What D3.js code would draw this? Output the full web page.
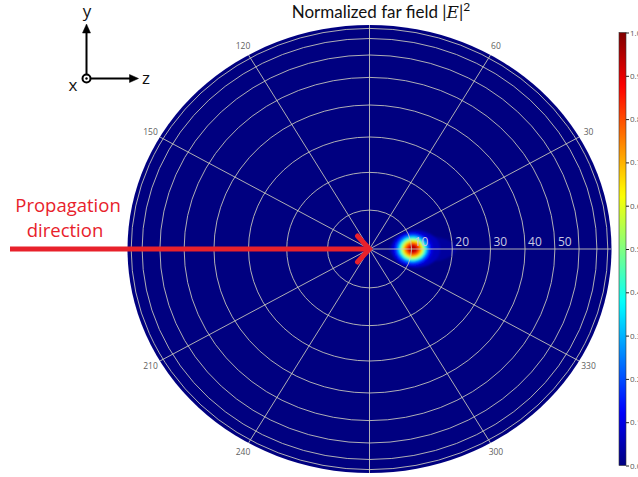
<!DOCTYPE html>
<html>
<head>
<meta charset="utf-8">
<script src="https://cdn.jsdelivr.net/npm/d3@7"></script>
<style>
  html, body { margin: 0; padding: 0; background: #fff; }
  svg { display: block; }
</style>
</head>
<body>
<svg id="chart" width="638" height="477"></svg>
<script>
// ---- data ----------------------------------------------------------------
// polar grid: rings in polar angle theta (deg), spokes in azimuth phi (deg)
const ringTheta = [10, 20, 30, 40, 50, 60, 70, 80];
const ringLabels = [10, 20, 30, 40, 50];
const spokePhi = [0, 30, 60, 90, 120, 150, 180, 210, 240, 270, 300, 330];
const phiLabels = [30, 60, 120, 150, 210, 240, 300, 330];

// far-field main lobe: peak direction and the extent of each intensity level
const peakTheta = 10.3;   // deg
const peakPhi = 0;        // deg
const levelValue   = [0.03, 0.06, 0.1, 0.15, 0.2, 0.3, 0.4, 0.5, 0.6, 0.7, 0.8, 0.9, 0.95];
const levelThetaLo = [4.6, 5.1, 5.6, 6.0, 6.3, 6.7, 7.05, 7.4, 7.75, 8.1, 8.5, 9.0, 9.4];          // inner edge (deg)
const levelThetaHi = [21.0, 17.0, 15.2, 14.6, 14.3, 13.9, 13.55, 13.2, 12.85, 12.5, 12.1, 11.6, 11.2]; // outer edge (deg)
const levelPhiHalf = [3.4, 4.8, 4.3, 3.95, 3.7, 3.3, 3.0, 2.7, 2.35, 2.0, 1.65, 1.2, 0.85];         // transverse half-width (deg)

// colour bar
const colorTicks = [0, 0.1, 0.2, 0.3, 0.4, 0.5, 0.6, 0.7, 0.8, 0.9, 1.0];

// ---- layout --------------------------------------------------------------
const cx = 369.5, cy = 249, rx = 242, ry = 224;
const svg = d3.select("#chart");
const rad = Math.PI / 180;

// jet colormap
function jet(t) {
  const c = x => Math.max(0, Math.min(1, x));
  const r = c(1.5 - Math.abs(4 * t - 3));
  const g = c(1.5 - Math.abs(4 * t - 2));
  const b = c(1.5 - Math.abs(4 * t - 1));
  return d3.rgb(r * 255, g * 255, b * 255).formatHex();
}

// direction-cosine (orthographic) projection of the hemisphere
const u = d3.scaleLinear().domain([-1, 1]).range([cx - rx, cx + rx]);
const v = d3.scaleLinear().domain([-1, 1]).range([cy + ry, cy - ry]);
const project = (theta, phi) => [
  u(Math.sin(theta * rad) * Math.cos(phi * rad)),
  v(Math.sin(theta * rad) * Math.sin(phi * rad))
];

const defs = svg.append("defs");
defs.append("clipPath").attr("id", "disk")
  .append("ellipse").attr("cx", cx).attr("cy", cy).attr("rx", rx).attr("ry", ry);
defs.append("filter").attr("id", "soft")
  .attr("x", "-50%").attr("y", "-50%").attr("width", "200%").attr("height", "200%")
  .append("feGaussianBlur").attr("stdDeviation", 1.3);

// background of the field (value 0)
svg.append("ellipse")
  .attr("cx", cx).attr("cy", cy).attr("rx", rx).attr("ry", ry)
  .attr("fill", jet(0));

// intensity levels of the main lobe, lowest first
const lobe = svg.append("g").attr("clip-path", "url(#disk)")
  .append("g").attr("filter", "url(#soft)");
lobe.selectAll("ellipse")
  .data(levelValue.map((val, i) => ({
    val,
    lo: levelThetaLo[i], hi: levelThetaHi[i], ph: levelPhiHalf[i]
  })))
  .join("ellipse")
  .attr("cx", d => (project(d.lo, peakPhi)[0] + project(d.hi, peakPhi)[0]) / 2)
  .attr("cy", d => v(Math.sin(peakPhi * rad)))
  .attr("rx", d => (project(d.hi, peakPhi)[0] - project(d.lo, peakPhi)[0]) / 2)
  .attr("ry", d => v(0) - v(Math.sin(d.ph * rad)))
  .attr("fill", d => jet(d.val));

// grid
const grid = svg.append("g").attr("clip-path", "url(#disk)")
  .attr("fill", "none").attr("stroke", "#cdcdbd").attr("stroke-width", 1)
  .attr("stroke-opacity", 0.85);
grid.selectAll("ellipse")
  .data(ringTheta)
  .join("ellipse")
  .attr("cx", cx).attr("cy", cy)
  .attr("rx", d => u(Math.sin(d * rad)) - u(0))
  .attr("ry", d => v(0) - v(Math.sin(d * rad)));
grid.selectAll("line")
  .data(spokePhi)
  .join("line")
  .attr("x1", cx).attr("y1", cy)
  .attr("x2", d => project(90, d)[0])
  .attr("y2", d => project(90, d)[1]);

// azimuth labels
svg.append("g")
  .attr("font-family", "'Open Sans', sans-serif").attr("font-size", 8.5)
  .attr("fill", "#606060").attr("text-anchor", "middle")
  .selectAll("text")
  .data(phiLabels)
  .join("text")
  .attr("x", d => cx + 1.045 * (project(90, d)[0] - cx))
  .attr("y", d => cy + 1.045 * (project(90, d)[1] - cy) + 3)
  .text(d => d);

// polar-angle labels along phi = 0
svg.append("g")
  .attr("font-family", "'Open Sans', sans-serif").attr("font-size", 12)
  .attr("fill", "#c9c9e0")
  .selectAll("text")
  .data(ringLabels)
  .join("text")
  .attr("x", d => project(d, 0)[0] + 3)
  .attr("y", cy - 3)
  .text(d => d);

// title
const title = svg.append("text")
  .attr("x", 381).attr("y", 18)
  .attr("text-anchor", "middle")
  .attr("font-family", "Lato, 'Open Sans', sans-serif")
  .attr("font-size", 17).attr("fill", "#111");
title.append("tspan").text("Normalized far field ");
title.append("tspan").text("|");
title.append("tspan").attr("font-family", "'DejaVu Serif', serif").attr("font-style", "italic").text("E");
title.append("tspan").text("|");
title.append("tspan").attr("dy", -7).attr("font-size", 12).text("2");

// colour bar
const cbX = 619, cbW = 7;
const cy0 = d3.scaleLinear().domain([0, 1]).range([465.5, 32.5]);
const grad = defs.append("linearGradient").attr("id", "jetGrad")
  .attr("x1", 0).attr("y1", 1).attr("x2", 0).attr("y2", 0);
d3.range(0, 1.0001, 0.02).forEach(t =>
  grad.append("stop").attr("offset", t).attr("stop-color", jet(t)));
svg.append("rect")
  .attr("x", cbX).attr("y", cy0(1)).attr("width", cbW).attr("height", cy0(0) - cy0(1))
  .attr("fill", "url(#jetGrad)").attr("stroke", "#333").attr("stroke-width", 0.6);
const cbAxis = svg.append("g")
  .attr("transform", `translate(${cbX + cbW},0)`)
  .call(d3.axisRight(cy0).tickValues(colorTicks).tickFormat(d3.format(".1f")).tickSize(3).tickPadding(1));
cbAxis.select(".domain").remove();
cbAxis.selectAll("line").attr("stroke", "#222");
cbAxis.selectAll("text").attr("font-size", 8).attr("fill", "#555")
  .attr("font-family", "'Open Sans', sans-serif");

// propagation arrow
const red = "#e8212b";
svg.append("line")
  .attr("x1", 10).attr("y1", cy).attr("x2", cx - 3).attr("y2", cy)
  .attr("stroke", red).attr("stroke-width", 5);
svg.append("polyline")
  .attr("points", `${cx - 12},${cy - 13} ${cx},${cy} ${cx - 12},${cy + 13}`)
  .attr("fill", "none").attr("stroke", red).attr("stroke-width", 5)
  .attr("stroke-linecap", "round").attr("stroke-linejoin", "miter");
const prop = svg.append("g")
  .attr("font-family", "'Open Sans', sans-serif").attr("font-size", 18.5)
  .attr("fill", red).attr("text-anchor", "middle");
prop.append("text").attr("x", 68).attr("y", 212).text("Propagation");
prop.append("text").attr("x", 65).attr("y", 237).text("direction");

// coordinate frame
const frame = svg.append("g").attr("stroke", "#000").attr("stroke-width", 2);
frame.append("line").attr("x1", 86.5).attr("y1", 74).attr("x2", 86.5).attr("y2", 31);
frame.append("path").attr("d", "M86.5,24 L82.5,33 L90.5,33 Z").attr("fill", "#000").attr("stroke-width", 0.5);
frame.append("line").attr("x1", 91).attr("y1", 78.5).attr("x2", 131).attr("y2", 78.5);
frame.append("path").attr("d", "M138.5,78.5 L129.5,74.5 L129.5,82.5 Z").attr("fill", "#000").attr("stroke-width", 0.5);
frame.append("circle").attr("cx", 86.5).attr("cy", 78.5).attr("r", 4).attr("fill", "#fff");
frame.append("circle").attr("cx", 86.5).attr("cy", 78.5).attr("r", 1.2).attr("fill", "#000").attr("stroke", "none");
const axLab = svg.append("g")
  .attr("font-family", "'Open Sans', sans-serif").attr("font-size", 17).attr("fill", "#111")
  .attr("text-anchor", "middle");
axLab.append("text").attr("x", 87).attr("y", 17).text("y");
axLab.append("text").attr("x", 146).attr("y", 84).text("z");
axLab.append("text").attr("x", 73).attr("y", 91).text("x");
</script>
</body>
</html>
